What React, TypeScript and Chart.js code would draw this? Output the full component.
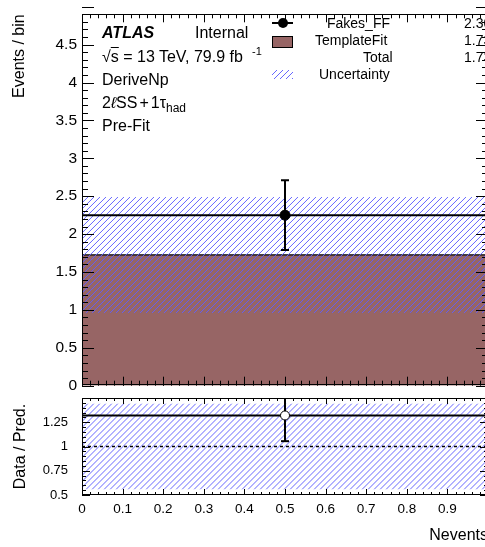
import React, { useEffect, useRef } from "react";
import { Chart, registerables } from "chart.js";

Chart.register(...registerables);

// ---------------- data ----------------
const binEdges = [0, 1];
const binCenters = [0.5];
const fakesFF = [2.25];
const fakesFFErr = [0.46];
const templateFit = [1.725];
const totalUncertainty = [0.765];
const ratioValues = [1.32];
const ratioErrors = [0.265];
const unityLine = [1];

const legendLabels = ["Fakes_FF", "TemplateFit", "Total", "Uncertainty"];
const legendYields = ["2.30", "1.73", "1.73"];

const mainYTicks = [0, 0.5, 1, 1.5, 2, 2.5, 3, 3.5, 4, 4.5];
const ratioYTicks = [0.5, 0.75, 1, 1.25];
const xTickLabels = [0, 0.1, 0.2, 0.3, 0.4, 0.5, 0.6, 0.7, 0.8, 0.9];

// ---------------- style ----------------
const FONT = "'Liberation Sans', Arial, Helvetica, sans-serif";
const BROWN = "#976565";
const HATCH = "rgba(95,95,255,0.95)";

// hatch drawn inside the band spanned by two line datasets (positions from Chart.js elements)
const hatchBand = {
  id: "hatchBand",
  afterDatasetDraw(chart: any, args: any, o: any) {
    if (!o || args.index !== o.upper) return;
    const hi = chart.getDatasetMeta(o.upper).data;
    const lo = chart.getDatasetMeta(o.lower).data;
    if (!hi.length || !lo.length) return;
    const a = chart.chartArea;
    const x0 = Math.max(a.left, hi[0].x);
    const x1 = Math.min(a.right, hi[hi.length - 1].x);
    const yTop = Math.max(a.top, hi[0].y);
    const yBot = Math.min(a.bottom, lo[0].y);
    const ctx = chart.ctx;
    ctx.save();
    ctx.setLineDash([]);
    ctx.globalAlpha = 1;
    ctx.beginPath();
    ctx.rect(x0, yTop, x1 - x0, yBot - yTop);
    ctx.clip();
    ctx.strokeStyle = o.stroke;
    ctx.lineWidth = o.width;
    ctx.beginPath();
    const h = yBot - yTop;
    for (let s = x0 - h - o.spacing; s < x1 + o.spacing; s += o.spacing) {
      ctx.moveTo(s, yBot);
      ctx.lineTo(s + h, yTop);
    }
    ctx.stroke();
    ctx.restore();
  },
};

const rootFrame = {
  id: "rootFrame",
  afterDatasetsDraw(chart: any, _args: any, o: any) {
    const { ctx, chartArea: a } = chart;
    const xs = chart.scales.x;
    const ys = chart.scales.y;
    ctx.save();
    ctx.setLineDash([]);
    ctx.strokeStyle = "#000";
    ctx.lineWidth = 1;
    ctx.beginPath();
    const steps = (min: number, max: number, step: number) => {
      const r: number[] = [];
      const k = Math.round((max - min) / step + 1e-6);
      for (let i = 0; i <= k; i++) r.push(min + i * step);
      return r;
    };
    const xTick = (v: number, bl: number, tl: number) => {
      const px = Math.round(xs.getPixelForValue(v)) + 0.5;
      ctx.moveTo(px, a.bottom);
      ctx.lineTo(px, a.bottom - bl);
      ctx.moveTo(px, a.top);
      ctx.lineTo(px, a.top + tl);
    };
    const yTick = (v: number, len: number) => {
      const py = Math.round(ys.getPixelForValue(v)) + 0.5;
      ctx.moveTo(a.left, py);
      ctx.lineTo(a.left + len, py);
      ctx.moveTo(a.right, py);
      ctx.lineTo(a.right - len, py);
    };
    steps(xs.min, xs.max, o.xMinor).forEach((v) => xTick(v, o.xMinorLen, o.xTopMinorLen));
    steps(xs.min, xs.max, o.xMajor).forEach((v) => xTick(v, o.xMajorLen, o.xTopMajorLen));
    steps(ys.min, ys.max, o.yMinor).forEach((v) => yTick(v, o.yMinorLen));
    steps(ys.min, ys.max, o.yMajor).forEach((v) => yTick(v, o.yMajorLen));
    ctx.stroke();
    ctx.strokeRect(
      Math.round(a.left) + 0.5,
      Math.round(a.top) + 0.5,
      Math.round(a.width) - 1,
      Math.round(a.height) - 1
    );
    ctx.restore();
  },
};

const noGrid = { display: false, drawTicks: false };

const invisibleLine = {
  borderWidth: 0,
  borderColor: "rgba(0,0,0,0)",
  backgroundColor: "rgba(0,0,0,0)",
  pointRadius: 0,
  fill: false,
};

function mainConfig(): any {
  const i = 0;
  return {
    type: "line",
    data: {
      datasets: [
        {
          label: "TemplateFit",
          data: [
            { x: binEdges[0], y: templateFit[i] },
            { x: binEdges[1], y: templateFit[i] },
          ],
          borderColor: "#000",
          borderWidth: 1.2,
          backgroundColor: BROWN,
          fill: "origin",
          pointRadius: 0,
          order: 10,
        },
        {
          label: "uncLow",
          data: [
            { x: binEdges[0], y: templateFit[i] - totalUncertainty[i] },
            { x: binEdges[1], y: templateFit[i] - totalUncertainty[i] },
          ],
          ...invisibleLine,
          order: 9,
        },
        {
          label: "Uncertainty",
          data: [
            { x: binEdges[0], y: templateFit[i] + totalUncertainty[i] },
            { x: binEdges[1], y: templateFit[i] + totalUncertainty[i] },
          ],
          ...invisibleLine,
          order: 8,
        },
        {
          label: "Fakes_FF xerr",
          data: [
            { x: binEdges[0], y: fakesFF[i] },
            { x: binEdges[1], y: fakesFF[i] },
          ],
          borderColor: "#000",
          borderWidth: 2,
          pointRadius: 0,
          fill: false,
          order: 2,
        },
        {
          label: "Fakes_FF yerr",
          data: [
            { x: binCenters[i], y: fakesFF[i] - fakesFFErr[i] },
            { x: binCenters[i], y: fakesFF[i] + fakesFFErr[i] },
          ],
          borderColor: "#000",
          borderWidth: 2,
          pointStyle: "line",
          pointRadius: 4,
          pointBorderWidth: 2,
          pointBorderColor: "#000",
          fill: false,
          order: 2,
        },
        {
          label: "Fakes_FF",
          data: [{ x: binCenters[i], y: fakesFF[i] }],
          showLine: false,
          pointRadius: 5,
          pointBackgroundColor: "#000",
          pointBorderColor: "#000",
          order: 1,
        },
      ],
    },
    options: {
      animation: false,
      responsive: false,
      maintainAspectRatio: false,
      events: [],
      layout: { padding: { top: 6, right: 12, bottom: 6, left: 0 } },
      plugins: {
        legend: { display: false },
        tooltip: { enabled: false },
        hatchBand: { upper: 2, lower: 1, stroke: HATCH, width: 1, spacing: 6 },
        rootFrame: {
          xMajor: 0.1, xMinor: 0.02, xMajorLen: 9, xMinorLen: 5, xTopMajorLen: 8, xTopMinorLen: 4,
          yMajor: 0.5, yMinor: 0.1, yMajorLen: 12, yMinorLen: 6,
        },
      },
      scales: {
        x: { type: "linear", min: 0, max: 1, display: false },
        y: {
          type: "linear",
          min: 0,
          max: 4.9,
          afterFit: (s: any) => { s.width = 82; },
          afterBuildTicks: (s: any) => { s.ticks = mainYTicks.map((v) => ({ value: v })); },
          ticks: { font: { family: FONT, size: 15.5 }, color: "#000", padding: 5, callback: (v: any) => String(v) },
          grid: noGrid,
          border: { display: false },
          title: {
            display: true,
            text: "Events / bin",
            align: "end",
            color: "#000",
            font: { family: FONT, size: 16 },
            padding: { top: 10, bottom: 0 },
          },
        },
      },
    },
    plugins: [hatchBand, rootFrame],
  };
}

function ratioConfig(): any {
  const i = 0;
  const rel = totalUncertainty[i] / templateFit[i];
  return {
    type: "line",
    data: {
      datasets: [
        {
          label: "unity",
          data: [
            { x: binEdges[0], y: unityLine[0] },
            { x: binEdges[1], y: unityLine[0] },
          ],
          borderColor: "#000",
          borderWidth: 1.5,
          borderDash: [3, 3],
          pointRadius: 0,
          fill: false,
          order: 5,
        },
        {
          label: "ratioUncLow",
          data: [
            { x: binEdges[0], y: unityLine[0] - rel },
            { x: binEdges[1], y: unityLine[0] - rel },
          ],
          ...invisibleLine,
          order: 9,
        },
        {
          label: "ratioUnc",
          data: [
            { x: binEdges[0], y: unityLine[0] + rel },
            { x: binEdges[1], y: unityLine[0] + rel },
          ],
          ...invisibleLine,
          order: 8,
        },
        {
          label: "ratio xerr",
          data: [
            { x: binEdges[0], y: ratioValues[i] },
            { x: binEdges[1], y: ratioValues[i] },
          ],
          borderColor: "#000",
          borderWidth: 2,
          pointRadius: 0,
          fill: false,
          order: 2,
        },
        {
          label: "ratio yerr",
          data: [
            { x: binCenters[i], y: ratioValues[i] - ratioErrors[i] },
            { x: binCenters[i], y: ratioValues[i] + ratioErrors[i] },
          ],
          borderColor: "#000",
          borderWidth: 2,
          pointStyle: "line",
          pointRadius: 4,
          pointBorderWidth: 2,
          pointBorderColor: "#000",
          fill: false,
          order: 2,
        },
        {
          label: "ratio",
          data: [{ x: binCenters[i], y: ratioValues[i] }],
          showLine: false,
          pointRadius: 4.5,
          pointBorderWidth: 1,
          pointBackgroundColor: "#fff",
          pointBorderColor: "#000",
          order: 1,
        },
      ],
    },
    options: {
      animation: false,
      responsive: false,
      maintainAspectRatio: false,
      events: [],
      layout: { padding: { top: 251, right: 12, bottom: 0, left: 0 } },
      plugins: {
        legend: { display: false },
        tooltip: { enabled: false },
        hatchBand: { upper: 2, lower: 1, stroke: HATCH, width: 1, spacing: 6 },
        rootFrame: {
          xMajor: 0.1, xMinor: 0.02, xMajorLen: 6, xMinorLen: 3, xTopMajorLen: 6, xTopMinorLen: 3,
          yMajor: 0.25, yMinor: 0.05, yMajorLen: 8, yMinorLen: 4,
        },
      },
      scales: {
        x: {
          type: "linear",
          min: 0,
          max: 1,
          position: "bottom",
          afterFit: (s: any) => { s.height = 52; },
          afterBuildTicks: (s: any) => { s.ticks = xTickLabels.map((v) => ({ value: v })); },
          ticks: { font: { family: FONT, size: 13.5 }, color: "#000", padding: 6, maxRotation: 0, autoSkip: false, callback: (v: any) => String(v) },
          grid: noGrid,
          border: { display: false },
          title: {
            display: true,
            text: "Nevents",
            align: "end",
            color: "#000",
            font: { family: FONT, size: 16 },
            padding: { top: 0, bottom: 2 },
          },
        },
        y: {
          type: "linear",
          min: 0.5,
          max: 1.5,
          afterFit: (s: any) => { s.width = 82; },
          afterBuildTicks: (s: any) => { s.ticks = ratioYTicks.map((v) => ({ value: v })); },
          ticks: { font: { family: FONT, size: 13 }, color: "#000", padding: 14, callback: (v: any) => String(v) },
          grid: noGrid,
          border: { display: false },
          title: {
            display: true,
            text: "Data / Pred.",
            align: "center",
            color: "#000",
            font: { family: FONT, size: 16 },
            padding: { top: 11, bottom: 0 },
          },
        },
      },
    },
    plugins: [hatchBand, rootFrame],
  };
}

function T(props: { x: number; cy: number; size: number; children: any; style?: any }) {
  return (
    <div
      style={{
        position: "absolute",
        left: props.x,
        top: props.cy - props.size * 0.49,
        fontSize: props.size,
        lineHeight: 1,
        whiteSpace: "nowrap",
        color: "#000",
        ...(props.style || {}),
      }}
    >
      {props.children}
    </div>
  );
}

export default function App() {
  const mainRef = useRef<HTMLCanvasElement>(null);
  const ratioRef = useRef<HTMLCanvasElement>(null);

  useEffect(() => {
    const main = new Chart(mainRef.current as HTMLCanvasElement, mainConfig());
    const ratio = new Chart(ratioRef.current as HTMLCanvasElement, ratioConfig());
    return () => {
      main.destroy();
      ratio.destroy();
    };
  }, []);

  const legendRowsY = [22.7, 40, 57.3, 74];
  const legendTextX = [327, 315, 363, 319];

  return (
    <div
      style={{
        position: "fixed",
        left: 0,
        top: 0,
        width: 485,
        height: 547,
        overflow: "hidden",
        background: "#fff",
        fontFamily: FONT,
      }}
    >
      <canvas
        ref={mainRef}
        width={500}
        height={400}
        style={{ position: "absolute", left: 0, top: 0, width: 500, height: 400 }}
      />
      <canvas
        ref={ratioRef}
        width={500}
        height={400}
        style={{ position: "absolute", left: 0, top: 147, width: 500, height: 400 }}
      />

      {/* ATLAS label block */}
      <T x={102} cy={32.6} size={16} style={{ fontWeight: "bold", fontStyle: "italic" }}>ATLAS</T>
      <T x={195} cy={32.6} size={16}>Internal</T>
      <T x={102} cy={57.3} size={16}>
        √<span style={{ textDecoration: "overline" }}>s</span> = 13 TeV, 79.9 fb
      </T>
      <T x={252} cy={51.5} size={11}>-1</T>
      <T x={102} cy={80} size={16}>DeriveNp</T>
      <T x={102} cy={103.3} size={16}>
        2<span style={{ fontStyle: "italic" }}>ℓ</span>SS<span style={{ margin: "0 2px" }}>+</span>1τ
        <span style={{ fontSize: 12, position: "relative", top: 4 }}>had</span>
      </T>
      <T x={102} cy={126} size={16}>Pre-Fit</T>

      {/* legend */}
      <div style={{ position: "absolute", left: 272, top: 22, width: 21, height: 2, background: "#000" }} />
      <div style={{ position: "absolute", left: 278, top: 18, width: 10, height: 10, borderRadius: 5, background: "#000" }} />
      <div
        style={{
          position: "absolute",
          left: 272,
          top: 36,
          width: 19,
          height: 10,
          background: BROWN,
          border: "1px solid #000",
        }}
      />
      <div
        style={{
          position: "absolute",
          left: 272,
          top: 70,
          width: 21,
          height: 9,
          background: `repeating-linear-gradient(135deg, rgba(0,0,0,0) 0px, rgba(0,0,0,0) 3px, ${HATCH} 3px, ${HATCH} 4.2px)`,
        }}
      />
      {legendLabels.map((l, k) => (
        <T key={l} x={legendTextX[k]} cy={legendRowsY[k]} size={14}>{l}</T>
      ))}
      {legendYields.map((v, k) => (
        <T key={"y" + k} x={464} cy={legendRowsY[k]} size={14}>{v}</T>
      ))}
    </div>
  );
}
